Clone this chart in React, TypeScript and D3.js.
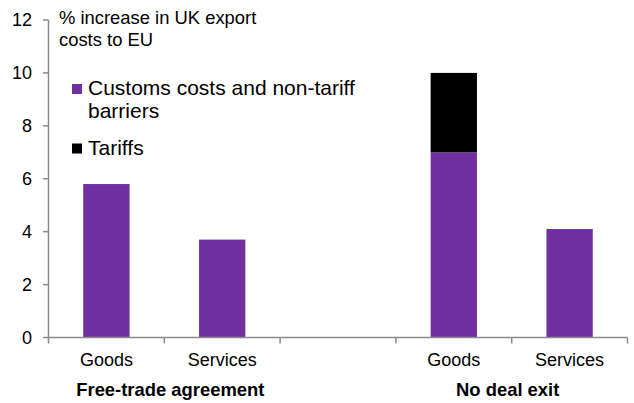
import React from "react";
import * as d3 from "d3";

const slots = ["fta-goods", "fta-services", "gap", "nd-goods", "nd-services"];
const categoryLabels = ["Goods", "Services", "", "Goods", "Services"];
const groupLabels = ["Free-trade agreement", "No deal exit"];
const groupSlots = [["fta-goods", "fta-services"], ["nd-goods", "nd-services"]];
const customsCosts = [5.8, 3.7, 0, 7.0, 4.1];
const tariffs = [0, 0, 0, 3.0, 0];
const seriesNames = ["Customs costs and non-tariff barriers", "Tariffs"];
const yTicks = [0, 2, 4, 6, 8, 10, 12];
const titleLines = ["% increase in UK export", "costs to EU"];

const W = 634;
const H = 403;
const FONT = "'Liberation Sans', Arial, sans-serif";
const PURPLE = "#7030A0";
const AXIS = "#8a8a8a";

export default function App() {
  const x = d3.scaleBand<string>().domain(slots).range([48.5, 627.5]).paddingInner(0.6).paddingOuter(0.3);
  const y = d3.scaleLinear().domain([0, 12]).range([337.5, 20]);
  const step = x.step();

  const rows = slots.map((s, i) => ({ slot: s, customs: customsCosts[i], tariffs: tariffs[i] }));
  const stack = d3.stack<any>().keys(["customs", "tariffs"]);
  const stacked = stack(rows);
  const colors = [PURPLE, "#000000"];

  const boundaries = d3.range(slots.length + 1).map((i) => 48.5 + i * step);

  return (
    <svg width={W} height={H} style={{ display: "block", position: "absolute", left: 0, top: 0 }} fontFamily={FONT}>
      <rect width={W} height={H} fill="#fff" />
      {stacked.map((layer, li) => (
        <g key={li} fill={colors[li]}>
          {layer.map((d, i) =>
            d[1] - d[0] > 0 ? (
              <rect key={i} x={x(slots[i])!} width={x.bandwidth()} y={y(d[1])} height={y(d[0]) - y(d[1])} />
            ) : null
          )}
        </g>
      ))}
      {/* y axis */}
      <line x1={48.5} x2={48.5} y1={y(12)} y2={y(0)} stroke={AXIS} strokeWidth={1.5} />
      {yTicks.map((t) => (
        <g key={t}>
          <line x1={43} x2={48.5} y1={y(t)} y2={y(t)} stroke={AXIS} strokeWidth={1.5} />
          <text x={32} y={y(t)} dy="0.36em" textAnchor="end" fontSize={18} fill="#000">
            {t}
          </text>
        </g>
      ))}
      {/* x axis */}
      <line x1={48.5} x2={627.5} y1={y(0)} y2={y(0)} stroke={AXIS} strokeWidth={1.5} />
      {boundaries.map((b, i) => (
        <line key={i} x1={b} x2={b} y1={y(0)} y2={y(0) + 6} stroke={AXIS} strokeWidth={1.5} />
      ))}
      {slots.map((s, i) => (
        <text key={s} x={x(s)! + x.bandwidth() / 2} y={366} textAnchor="middle" fontSize={18} fill="#000">
          {categoryLabels[i]}
        </text>
      ))}
      {groupLabels.map((g, i) => {
        const a = x(groupSlots[i][0])! + x.bandwidth() / 2;
        const b = x(groupSlots[i][1])! + x.bandwidth() / 2;
        return (
          <text key={g} x={(a + b) / 2 + (i === 0 ? 6 : -4)} y={396} textAnchor="middle" fontSize={18.4} fontWeight="bold" fill="#000">
            {g}
          </text>
        );
      })}
      {/* title */}
      {titleLines.map((t, i) => (
        <text key={i} x={59} y={24 + i * 22} fontSize={18.4} fill="#000">
          {t}
        </text>
      ))}
      {/* legend */}
      <rect x={72} y={84} width={10} height={10} fill={PURPLE} />
      <text x={88} y={95} fontSize={21} fill="#000">
        <tspan x={88}>Customs costs and non-tariff</tspan>
        <tspan x={88} dy={23}>barriers</tspan>
      </text>
      <rect x={72} y={143.5} width={10} height={10} fill="#000" />
      <text x={88} y={155} fontSize={21} fill="#000">
        {seriesNames[1]}
      </text>
    </svg>
  );
}
